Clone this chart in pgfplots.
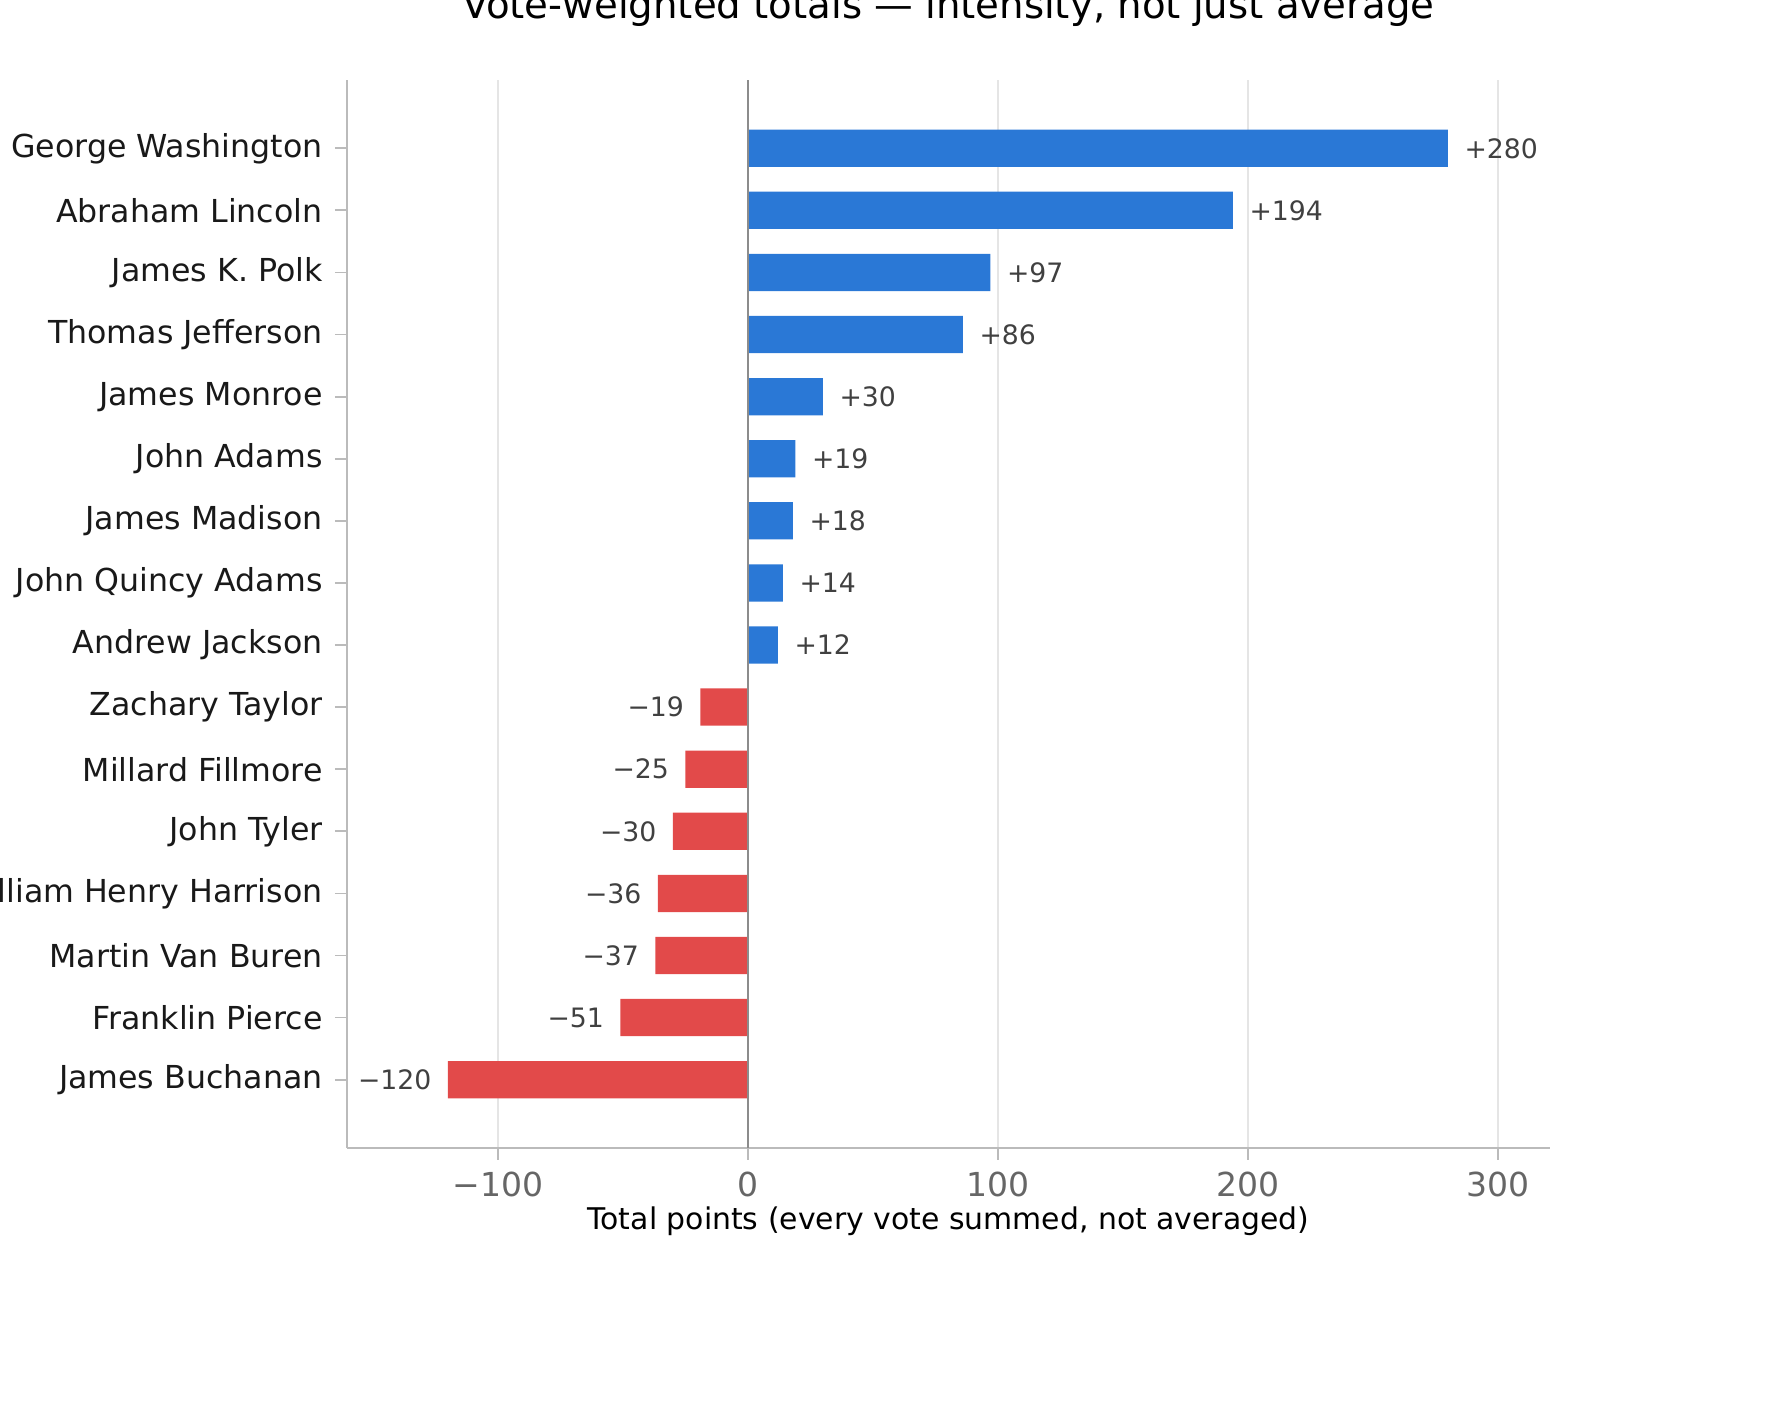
\documentclass[border=0pt]{standalone}
\usepackage{pgfplots}
\pgfplotsset{compat=1.18}
\usepackage{fontspec}
\setmainfont{DejaVu Sans}
\definecolor{posb}{HTML}{2A78D6}
\definecolor{negr}{HTML}{E24A4A}
\definecolor{spine}{HTML}{BBBBBB}
\begin{document}
\begin{tikzpicture}
\useasboundingbox (-34.7mm,-25.9mm) rectangle (142.1mm,114.8mm);
\begin{axis}[at={(0,0)}, anchor=south west,
  scale only axis, width=120.3mm, height=106.8mm,
  xmin=-160.4, xmax=320.8, ymin=-1.1, ymax=16.1,
  xbar, bar width=0.6, bar shift=0pt,
  axis x line*=bottom, axis y line*=left,
  axis line style={spine, line width=0.5pt},
  xtick={-100,0,100,200,300},
  xticklabels={−100,0,100,200,300},
  xticklabel style={font=\fontsize{9.4}{11}\selectfont, text=black!60},
  ytick={0,...,15},
  yticklabels={James Buchanan,Franklin Pierce,Martin Van Buren,William Henry Harrison,John Tyler,Millard Fillmore,Zachary Taylor,Andrew Jackson,John Quincy Adams,James Madison,John Adams,James Monroe,Thomas Jefferson,James K. Polk,Abraham Lincoln,George Washington},
  yticklabel style={font=\fontsize{9}{11}\selectfont, text=black!90},
  tick style={spine, line width=0.5pt}, tick align=outside, major tick length=1.2mm,
  xmajorgrids, grid style={black!10, line width=0.5pt},
  xlabel={Total points (every vote summed, not averaged)},
  xlabel style={font=\fontsize{8.5}{10}\selectfont, yshift=1.5mm},
  title={Vote-weighted totals — intensity, not just average},
  title style={font=\fontsize{11}{13}\selectfont, yshift=2mm},
  point meta=explicit symbolic,
  nodes near coords,
  nodes near coords style={font=\fontsize{7.6}{9}\selectfont, text=black!75, inner sep=4.5pt},
]
\addplot[fill=posb, draw=none, every node near coord/.append style={anchor=west}] table[meta=l] {
x y l
280 15 +280
194 14 +194
97 13 +97
86 12 +86
30 11 +30
19 10 +19
18 9 +18
14 8 +14
12 7 +12
};
\addplot[fill=negr, draw=none, every node near coord/.append style={anchor=east}] table[meta=l] {
x y l
-19 6 −19
-25 5 −25
-30 4 −30
-36 3 −36
-37 2 −37
-51 1 −51
-120 0 −120
};
\draw[black!45, line width=0.8pt] (axis cs:0,-1.1) -- (axis cs:0,16.1);
\end{axis}
\end{tikzpicture}
\end{document}
